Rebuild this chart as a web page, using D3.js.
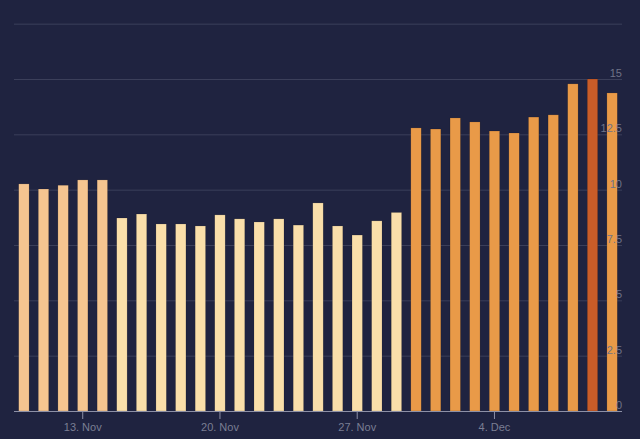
<!DOCTYPE html>
<html><head><meta charset="utf-8">
<script src="https://cdn.jsdelivr.net/npm/d3@7"></script>
<style>
body{margin:0;background:#1f2340;}
svg{display:block;font-family:"Liberation Sans",Arial,sans-serif;}
</style></head>
<body><svg id="c" width="640" height="439"></svg>
<script>
// days from 10 Nov to 10 Dec
var days = ["10 Nov","11 Nov","12 Nov","13 Nov","14 Nov","15 Nov","16 Nov","17 Nov","18 Nov","19 Nov",
  "20 Nov","21 Nov","22 Nov","23 Nov","24 Nov","25 Nov","26 Nov","27 Nov","28 Nov","29 Nov",
  "30 Nov","1 Dec","2 Dec","3 Dec","4 Dec","5 Dec","6 Dec","7 Dec","8 Dec","9 Dec","10 Dec"];
var values = [10.26,10.03,10.2,10.44,10.44,8.72,8.9,8.45,8.45,8.36,
  8.86,8.68,8.54,8.68,8.4,9.4,8.36,7.95,8.59,8.97,
  12.79,12.74,13.24,13.06,12.65,12.56,13.28,13.38,14.78,15,14.37];
var groups = ["a","a","a","a","a","b","b","b","b","b","b","b","b","b","b","b","b","b","b","b",
  "c","c","c","c","c","c","c","c","c","d","c"];
var yTicks = [0,2.5,5,7.5,10,12.5,15,17.5];
var xTickDays = ["13 Nov","20 Nov","27 Nov","4 Dec"];
var xTickLabels = ["13. Nov","20. Nov","27. Nov","4. Dec"];

var colors = {a:"#f5c590", b:"#fadfaa", c:"#e99a48", d:"#c95c28"};
var svg = d3.select("#c");
var left = 14, right = 622, bottom = 411;

var x = d3.scaleBand().domain(days).range([left, right]).paddingInner(0.47).paddingOuter(0.24);
var y = d3.scaleLinear().domain([0, 15]).range([bottom, 79]);

var grid = svg.append("g");
grid.selectAll("line").data(yTicks.filter(function(d){return d>0;})).join("line")
  .attr("x1", left).attr("x2", right)
  .attr("y1", function(d){return y(d)+0.5;}).attr("y2", function(d){return y(d)+0.5;})
  .attr("stroke", "#3b3f5a").attr("stroke-width", 1);

svg.append("g").selectAll("rect").data(values).join("rect")
  .attr("x", function(d,i){return x(days[i]);})
  .attr("width", x.bandwidth())
  .attr("y", function(d){return y(d);})
  .attr("height", function(d){return bottom - y(d);})
  .attr("fill", function(d,i){return colors[groups[i]];})
  .attr("stroke", "rgba(0,0,0,0.25)").attr("stroke-width", 0.5);

svg.append("g").selectAll("text").data(yTicks.filter(function(d){return d<17.5;})).join("text")
  .attr("x", right).attr("y", function(d){return y(d)-2;})
  .attr("text-anchor", "end").attr("font-size", 11).attr("fill", "#6f7387")
  .text(function(d){return d;});

svg.append("line").attr("x1", left).attr("x2", right)
  .attr("y1", bottom+0.5).attr("y2", bottom+0.5).attr("stroke", "#8d90a6");

var xt = svg.append("g").selectAll("g").data(xTickDays).join("g")
  .attr("transform", function(d){return "translate(" + (x(d)+x.bandwidth()/2) + ",0)";});
xt.append("line").attr("y1", bottom).attr("y2", bottom+8).attr("stroke", "#8d90a6");
xt.append("text").attr("y", bottom+20).attr("text-anchor", "middle")
  .attr("font-size", 11).attr("fill", "#7a7e93")
  .text(function(d,i){return xTickLabels[i];});
</script></body></html>
